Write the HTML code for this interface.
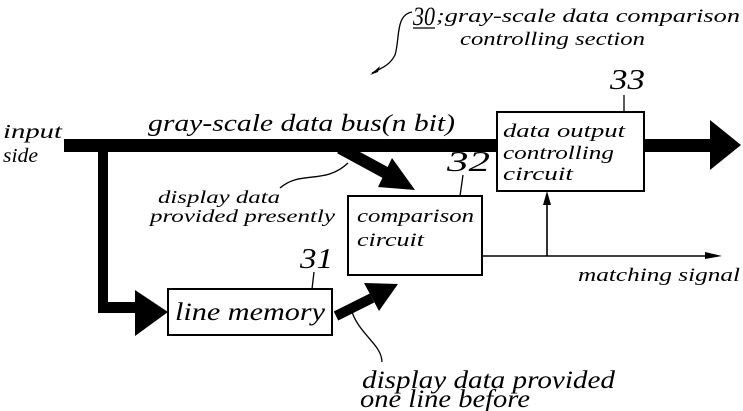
<!DOCTYPE html>
<html><head><meta charset="utf-8"><style>
html,body{margin:0;padding:0;background:#fff;}
svg{display:block;}
text{font-family:"Liberation Serif",serif;font-style:italic;fill:#000;}
</style></head><body>
<svg width="743" height="411" viewBox="0 0 743 411" xmlns="http://www.w3.org/2000/svg">
<rect x="64" y="139" width="433" height="13" fill="#000"/>
<rect x="644" y="139" width="70" height="13" fill="#000"/>
<polygon points="710,120 741,145 710,170" fill="#000"/>
<rect x="98" y="145" width="10" height="168" fill="#000"/>
<rect x="98" y="302" width="40" height="11" fill="#000"/>
<polygon points="135,290 168,312 135,336" fill="#000"/>
<!-- diagonal -->
<line x1="340" y1="148" x2="388" y2="174" stroke="#000" stroke-width="12"/>
<polygon points="392,158 415,190 378,187" fill="#000"/>
<!-- line memory output -->
<line x1="336" y1="316" x2="372" y2="298" stroke="#000" stroke-width="10"/>
<polygon points="364,283 398,284 379,311" fill="#000"/>
<rect x="168" y="289" width="164" height="46" fill="#fff" stroke="#000" stroke-width="2"/>
<rect x="348" y="196" width="134" height="79" fill="#fff" stroke="#000" stroke-width="2"/>
<rect x="497" y="112" width="147" height="79" fill="#fff" stroke="#000" stroke-width="2"/>
<line x1="482" y1="256" x2="715" y2="256" stroke="#000" stroke-width="1.6"/>
<polygon points="705,252 722,256 705,259" fill="#000"/>
<line x1="547" y1="256" x2="547" y2="200" stroke="#000" stroke-width="1.6"/>
<polygon points="543,205 547,191 551,205" fill="#000"/>
<path d="M280,188 C300,170 325,185 348,163" fill="none" stroke="#000" stroke-width="1.3"/>
<path d="M352,312 C360,335 382,345 382,362" fill="none" stroke="#000" stroke-width="1.3"/>
<path d="M412,12 C395,15 400,40 395,55 C390,65 382,68 372,73" fill="none" stroke="#000" stroke-width="1.3"/>
<polygon points="370,75 380,66 378,72" fill="#000"/>
<path d="M463,175 L460,196" stroke="#000" stroke-width="1.3"/>
<path d="M314,272 L312,289" stroke="#000" stroke-width="1.3"/>
<path d="M624,95 L624,112" stroke="#000" stroke-width="1.3"/>
<text x="413" y="25" font-size="26" textLength="22" lengthAdjust="spacingAndGlyphs">30</text>
<line x1="413" y1="28" x2="435" y2="28" stroke="#000" stroke-width="1.3"/>
<text x="436" y="22" font-size="19" textLength="304" lengthAdjust="spacingAndGlyphs">;gray-scale data comparison</text>
<text x="460" y="45" font-size="19" textLength="185" lengthAdjust="spacingAndGlyphs">controlling section</text>
<text x="610" y="89" font-size="28" textLength="35" lengthAdjust="spacingAndGlyphs">33</text>
<text x="447" y="171" font-size="28" textLength="43" lengthAdjust="spacingAndGlyphs">32</text>
<text x="300" y="268" font-size="28" textLength="33" lengthAdjust="spacingAndGlyphs">31</text>
<text x="3" y="138" font-size="20" textLength="59" lengthAdjust="spacingAndGlyphs">input</text>
<text x="3" y="162" font-size="20" textLength="35" lengthAdjust="spacingAndGlyphs">side</text>
<text x="148" y="131" font-size="24" textLength="307" lengthAdjust="spacingAndGlyphs">gray-scale data bus(n bit)</text>
<text x="503" y="137" font-size="19" textLength="122" lengthAdjust="spacingAndGlyphs">data output</text>
<text x="503" y="159" font-size="19" textLength="111" lengthAdjust="spacingAndGlyphs">controlling</text>
<text x="503" y="180" font-size="19" textLength="70" lengthAdjust="spacingAndGlyphs">circuit</text>
<text x="357" y="222" font-size="19" textLength="117" lengthAdjust="spacingAndGlyphs">comparison</text>
<text x="357" y="246" font-size="19" textLength="67" lengthAdjust="spacingAndGlyphs">circuit</text>
<text x="175" y="320" font-size="25" textLength="150" lengthAdjust="spacingAndGlyphs">line memory</text>
<text x="158" y="203" font-size="18" textLength="122" lengthAdjust="spacingAndGlyphs">display data</text>
<text x="150" y="222" font-size="18" textLength="185" lengthAdjust="spacingAndGlyphs">provided presently</text>
<text x="578" y="281" font-size="19" textLength="162" lengthAdjust="spacingAndGlyphs">matching signal</text>
<text x="362" y="388" font-size="25" textLength="253" lengthAdjust="spacingAndGlyphs">display data provided</text>
<text x="360" y="407" font-size="25" textLength="170" lengthAdjust="spacingAndGlyphs">one line before</text>
</svg>
</body></html>
